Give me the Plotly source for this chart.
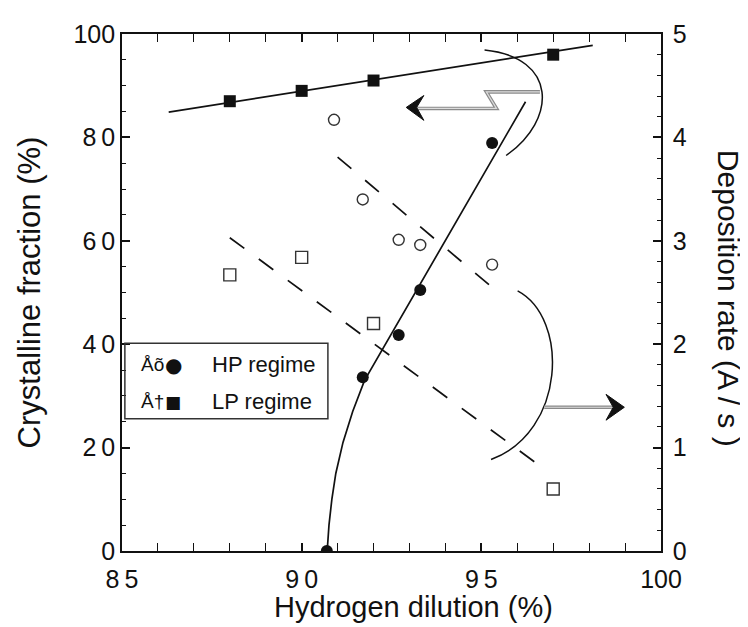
import plotly.graph_objects as go

# ---------------- data ----------------
# crystalline fraction (left axis, %)
hp_x = [90.7, 91.7, 92.7, 93.3, 95.3]
hp_cf = [0.0, 33.6, 41.8, 50.5, 78.9]
lp_x = [88.0, 90.0, 92.0, 97.0]
lp_cf = [87.0, 89.0, 91.0, 96.0]

# deposition rate (right axis, A/s)
hp_rate_x = [90.9, 91.7, 92.7, 93.3, 95.3]
hp_rate = [4.17, 3.40, 3.01, 2.96, 2.77]
lp_rate_x = [88.0, 90.0, 92.0, 97.0]
lp_rate = [2.67, 2.84, 2.20, 0.60]

# guide lines drawn through the data
lp_fit_x = [86.3, 98.1]
lp_fit_cf = [84.9, 97.8]
hp_fit_x = [90.71, 90.76, 90.84, 90.95, 91.15, 91.42, 91.75, 96.23]
hp_fit_cf = [0.0, 5.0, 10.0, 15.0, 21.0, 27.0, 33.0, 86.9]
hp_rate_fit_x = [91.0, 95.3]
hp_rate_fit = [3.81, 2.55]
lp_rate_fit_x = [88.0, 96.8]
lp_rate_fit = [3.03, 0.78]

# tick labels
x_tickvals = [85, 90, 95, 100]
x_ticktext = ["8\u20095", "9\u20090", "9\u20095", "100"]
y_tickvals = [0, 20, 40, 60, 80, 100]
y_ticktext = ["0", "2\u20090", "4\u20090", "6\u20090", "8\u20090", "100"]
y2_tickvals = [0, 1, 2, 3, 4, 5]
y2_ticktext = ["0", "1", "2", "3", "4", "5"]

FONT = "Liberation Sans, Arial, Helvetica, sans-serif"
INK = "#111111"

fig = go.Figure()

# fit lines
fig.add_trace(go.Scatter(x=lp_fit_x, y=lp_fit_cf, mode="lines",
                         line=dict(color=INK, width=1.7), showlegend=False))
fig.add_trace(go.Scatter(x=hp_fit_x, y=hp_fit_cf, mode="lines",
                         line=dict(color=INK, width=1.7), showlegend=False))
fig.add_trace(go.Scatter(x=hp_rate_fit_x, y=hp_rate_fit, mode="lines", yaxis="y2",
                         line=dict(color=INK, width=1.7, dash="18px,18px"), showlegend=False))
fig.add_trace(go.Scatter(x=lp_rate_fit_x, y=lp_rate_fit, mode="lines", yaxis="y2",
                         line=dict(color=INK, width=1.7, dash="18px,18px"), showlegend=False))

# data markers
fig.add_trace(go.Scatter(x=hp_x, y=hp_cf, mode="markers", name="HP regime",
                         marker=dict(symbol="circle", size=12, color=INK), showlegend=False))
fig.add_trace(go.Scatter(x=lp_x, y=lp_cf, mode="markers", name="LP regime",
                         marker=dict(symbol="square", size=12, color=INK), showlegend=False))
fig.add_trace(go.Scatter(x=hp_rate_x, y=hp_rate, mode="markers", yaxis="y2",
                         marker=dict(symbol="circle-open", size=11, color="#333",
                                     line=dict(width=1.4)), showlegend=False))
fig.add_trace(go.Scatter(x=lp_rate_x, y=lp_rate, mode="markers", yaxis="y2",
                         marker=dict(symbol="square-open", size=12, color="#333",
                                     line=dict(width=1.4)), showlegend=False))

# ---------------- decorations: brackets and arrows ----------------
shapes = []
# brackets
shapes.append(dict(type="path", xref="x", yref="y",
                   path="M 95.09,96.9 C 97.12,95.5 97.12,83.5 95.69,76.5",
                   line=dict(color=INK, width=1.5)))
shapes.append(dict(type="path", xref="x", yref="y",
                   path="M 96.01,50.3 C 97.45,45 97.35,23 95.27,17.7",
                   line=dict(color=INK, width=1.5)))
# hollow gray arrow shafts (outer + inner line)
left_shaft = "M 93.2,85.6 L 95.42,85.6 L 95.14,88.8 L 96.63,88.8"
right_shaft = "M 96.75,27.8 L 98.7,27.8"
for p in (left_shaft, right_shaft):
    shapes.append(dict(type="path", xref="x", yref="y", path=p,
                       line=dict(color="#8a8a8a", width=3.6)))
    shapes.append(dict(type="path", xref="x", yref="y", path=p,
                       line=dict(color="#dcdcdc", width=1.2)))
# arrow heads
shapes.append(dict(type="path", xref="x", yref="y",
                   path="M 92.91,85.8 L 93.4,88.1 L 93.2,85.8 L 93.4,83.3 Z",
                   fillcolor=INK, line=dict(color=INK, width=1)))
shapes.append(dict(type="path", xref="x", yref="y",
                   path="M 98.98,27.8 L 98.47,30.3 L 98.67,27.8 L 98.47,25.3 Z",
                   fillcolor=INK, line=dict(color=INK, width=1)))
# legend box
shapes.append(dict(type="rect", xref="x", yref="y", x0=85.08, x1=90.73, y0=25.6, y1=40.2,
                   line=dict(color="#333", width=1.5), fillcolor="rgba(0,0,0,0)"))

annotations = []
legend_rows = [("Å\u00f5", "\u25cf", "HP regime", 36.0, 20),
               ("Å\u2020", "\u25a0", "LP regime", 28.9, 17)]
for pre, sym, label, yy, symsize in legend_rows:
    annotations.append(dict(x=85.86, y=yy, xref="x", yref="y", text=pre, showarrow=False,
                            font=dict(family=FONT, size=19, color=INK)))
    annotations.append(dict(x=86.42, y=yy, xref="x", yref="y", text=sym, showarrow=False,
                            font=dict(family="DejaVu Sans", size=symsize, color=INK)))
    annotations.append(dict(x=87.45, y=yy, xref="x", yref="y", text=label, showarrow=False,
                            xanchor="left", font=dict(family=FONT, size=22, color=INK)))

# axis titles placed as in the reference (right one reads top-to-bottom)
annotations.append(dict(x=0.54, y=-0.108, xref="paper", yref="paper",
                        text="Hydrogen dilution (%)", showarrow=False,
                        xanchor="center", yanchor="middle",
                        font=dict(family=FONT, size=29, color=INK)))
annotations.append(dict(x=1.124, y=0.488, xref="paper", yref="paper",
                        text="Deposition rate (A / s )", showarrow=False, textangle=90,
                        xanchor="center", yanchor="middle",
                        font=dict(family=FONT, size=30, color=INK)))

axis_common = dict(showline=True, linecolor=INK, linewidth=1.6, ticks="inside",
                   tickcolor=INK, tickwidth=1.5, ticklen=8, showgrid=False, zeroline=False,
                   tickfont=dict(family=FONT, size=25, color=INK))

fig.update_layout(
    width=748, height=627,
    margin=dict(l=114, r=95, t=16, b=84),
    paper_bgcolor="white", plot_bgcolor="white",
    showlegend=False,
    font=dict(family=FONT, color=INK),
    xaxis=dict(range=[85, 100], tickvals=x_tickvals, ticktext=x_ticktext, mirror="allticks",
               minor=dict(dtick=1, ticks="inside", ticklen=4, tickcolor=INK, tickwidth=1.3),
               ticklabelstandoff=5,
               **axis_common),
    yaxis=dict(range=[0, 100], tickvals=y_tickvals, ticktext=y_ticktext,
               minor=dict(dtick=5, ticks="inside", ticklen=4, tickcolor=INK, tickwidth=1.3),
               title=dict(text="Crystalline fraction (%)", font=dict(family=FONT, size=31, color=INK),
                          standoff=24),
               ticklabelstandoff=0,
               **axis_common),
    yaxis2=dict(range=[0, 5], tickvals=y2_tickvals, ticktext=y2_ticktext, overlaying="y", side="right",
                minor=dict(dtick=0.2, ticks="inside", ticklen=4, tickcolor=INK, tickwidth=1.3),
                ticklabelstandoff=5,
                **axis_common),
    shapes=shapes,
    annotations=annotations,
)

fig.write_html("out.html")
